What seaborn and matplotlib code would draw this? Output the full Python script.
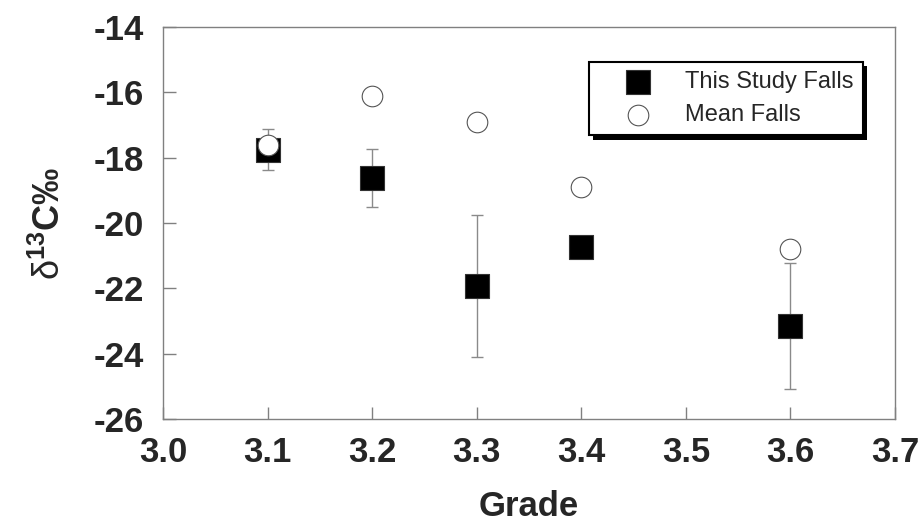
import numpy as np
import pandas as pd
import matplotlib
matplotlib.use('Agg')
import matplotlib.pyplot as plt
import matplotlib.patheffects as pe
import seaborn as sns

# Data
grade = [3.1, 3.2, 3.3, 3.4, 3.6]
study_d13c = [-17.75, -18.62, -21.93, -20.73, -23.15]
study_err = [0.63, 0.88, 2.16, 0.0, 1.92]
mean_d13c = [-17.6, -16.1, -16.9, -18.9, -20.8]

x_ticks = [3.0, 3.1, 3.2, 3.3, 3.4, 3.5, 3.6, 3.7]
y_ticks = [-26, -24, -22, -20, -18, -16, -14]

sns.set_style('ticks')
plt.rcParams['font.family'] = ['Liberation Sans', 'DejaVu Sans']
plt.rcParams['mathtext.fontset'] = 'custom'
plt.rcParams['mathtext.rm'] = 'Liberation Sans'
plt.rcParams['mathtext.bf'] = 'Liberation Sans:bold'
plt.rcParams['mathtext.it'] = 'Liberation Sans:italic'

df_study = pd.DataFrame({'grade': grade, 'd13c': study_d13c, 'err': study_err})
df_mean = pd.DataFrame({'grade': grade, 'd13c': mean_d13c})

fig = plt.figure(figsize=(9.22, 5.25), dpi=100)
ax = fig.add_axes([163 / 922, 106 / 525, 732 / 922, 392 / 525])

ax.errorbar(df_study['grade'], df_study['d13c'], yerr=df_study['err'], fmt='none',
            ecolor='#8a8a8a', elinewidth=1.0, capsize=4, capthick=1.0, zorder=1)
sns.scatterplot(data=df_study, x='grade', y='d13c', marker='s', s=320, color='black',
                edgecolor='#333333', linewidth=0.8, label='This Study Falls', ax=ax, zorder=2)
sns.scatterplot(data=df_mean, x='grade', y='d13c', marker='o', s=220, color='white',
                edgecolor='#555555', linewidth=0.8, label='Mean Falls', ax=ax, zorder=3)

ax.set_xlim(3.0, 3.7)
ax.set_ylim(-26, -14)
ax.set_xticks(x_ticks)
ax.set_yticks(y_ticks)
ax.set_xticklabels([f'{t:.1f}' for t in x_ticks])
ax.set_yticklabels([str(t) for t in y_ticks])

for spine in ax.spines.values():
    spine.set_visible(True)
    spine.set_color('#808080')
    spine.set_linewidth(1.0)

ax.tick_params(axis='both', direction='in', color='#808080', width=1.0, length=9,
               labelsize=25)
ax.tick_params(axis='x', pad=12)
ax.tick_params(axis='y', pad=14)
for lbl in ax.get_xticklabels() + ax.get_yticklabels():
    lbl.set_fontweight('bold')

ax.set_xlabel('Grade', fontsize=25, fontweight='bold', labelpad=15)
ax.set_ylabel(r'$\mathrm{δ}^{\mathbf{13}}\mathbf{C‰}$', fontsize=26, labelpad=18)

leg = ax.legend(loc='upper right', bbox_to_anchor=(0.956, 0.911), borderaxespad=0,
                fontsize=17, frameon=True, fancybox=False, shadow=False,
                handlelength=3.4, handletextpad=0.28, labelspacing=0.45, borderpad=0.4)
frame = leg.get_frame()
frame.set_edgecolor('black')
frame.set_linewidth(1.5)
frame.set_alpha(1)
frame.set_path_effects([pe.SimplePatchShadow(offset=(3, -3), shadow_rgbFace='black', alpha=1),
                        pe.Normal()])

fig.savefig('out.png', dpi=100)
